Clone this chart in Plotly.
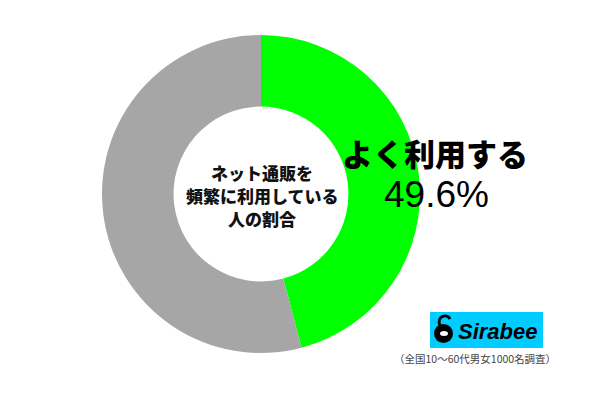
import plotly.graph_objects as go

# data
slice_labels = ["よく利用する", "その他"]
slice_values = [45.9, 54.1]  # visual wedge shares as drawn
slice_colors = ["#00FF00", "#A6A6A6"]
headline_label = "よく利用する"
headline_value = "49.6%"
center_lines = ["ネット通販を", "頻繁に利用している", "人の割合"]
footnote = "（全国10〜60代男女1000名調査）"
brand = "Sirabee"

JP = "Noto Sans CJK JP"

fig = go.Figure()
fig.add_trace(go.Pie(
    labels=slice_labels,
    values=slice_values,
    marker=dict(colors=slice_colors, line=dict(width=0)),
    hole=0.55,
    sort=False,
    direction="clockwise",
    rotation=0,
    textinfo="none",
    hoverinfo="label+value",
    showlegend=False,
    domain=dict(x=[0.17, 0.70], y=[0.1175, 0.9125]),
))

ann = []
for i, line in enumerate(center_lines):
    ann.append(dict(
        x=262, y=400 - (172 + 23 * i), xref="x", yref="y", showarrow=False,
        text=line,
        font=dict(family=JP, size=17, color="#111111", weight=900),
        align="center",
    ))
ann.append(dict(
    x=435, y=400 - 152, xref="x", yref="y", showarrow=False,
    text=headline_label,
    font=dict(family=JP, size=31, color="#000000", weight=900),
))
ann.append(dict(
    x=436, y=400 - 194, xref="x", yref="y", showarrow=False,
    text=headline_value,
    font=dict(family="Liberation Sans, Arial", size=37, color="#000000"),
))
ann.append(dict(
    x=498, y=400 - 331, xref="x", yref="y", showarrow=False,
    text="<i><b>" + brand + "</b></i>",
    font=dict(family="Liberation Sans, Arial", size=22, color="#000000"),
))
ann.append(dict(
    x=475, y=400 - 358, xref="x", yref="y", showarrow=False,
    text=footnote,
    font=dict(family=JP, size=10.5, color="#444444"),
))

shapes = [
    dict(type="rect", xref="x", yref="y", x0=430, x1=543, y0=400 - 348, y1=400 - 312,
         fillcolor="#00CCFF", line=dict(width=0), layer="below"),
    dict(type="circle", xref="x", yref="y", x0=434, x1=453, y0=400 - 343, y1=400 - 324,
         fillcolor="#000000", line=dict(width=0)),
    dict(type="path", xref="x", yref="y",
         path="M 440 {a} C 436 {b}, 447 {c}, 450 {d}".format(a=400 - 326, b=400 - 316, c=400 - 313, d=400 - 319),
         line=dict(color="#000000", width=3)),
    dict(type="circle", xref="x", yref="y", x0=440, x1=448, y0=400 - 336, y1=400 - 331,
         fillcolor="#FFFFFF", line=dict(width=0)),
]

fig.update_layout(
    width=600, height=400,
    margin=dict(l=0, r=0, t=0, b=0),
    paper_bgcolor="#FFFFFF", plot_bgcolor="rgba(0,0,0,0)",
    xaxis=dict(range=[0, 600], visible=False, fixedrange=True),
    yaxis=dict(range=[0, 400], visible=False, fixedrange=True),
    annotations=ann,
    shapes=shapes,
)

fig.write_html("out.html", config={"displayModeBar": False},
               post_script="document.body.style.margin='0';")
